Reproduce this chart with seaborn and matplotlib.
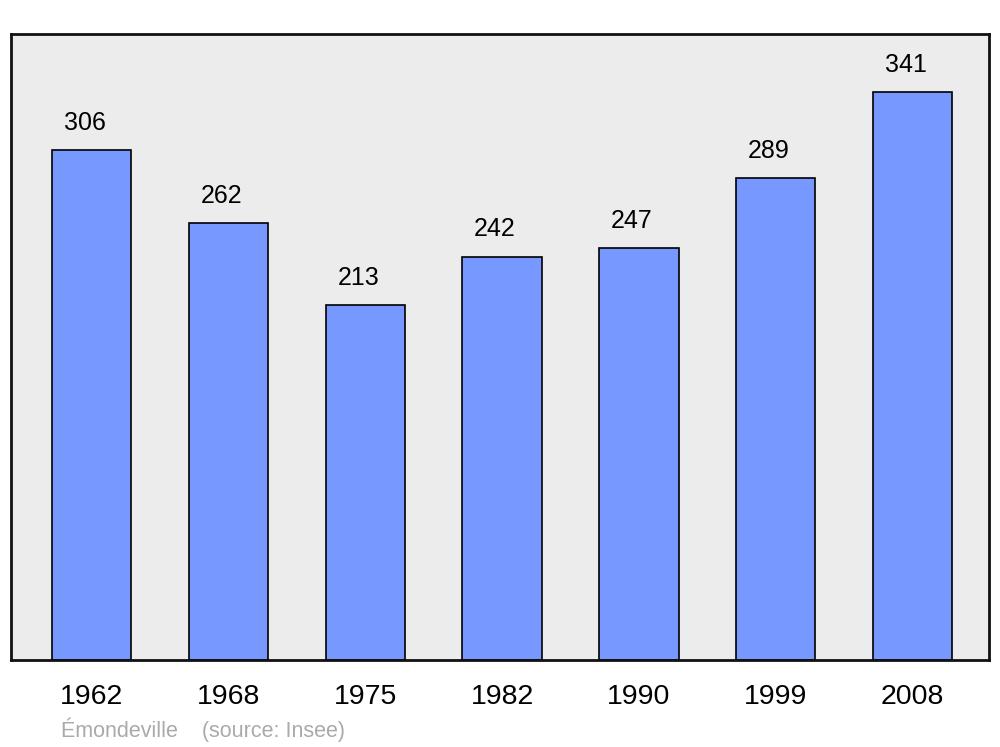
import matplotlib
matplotlib.use("Agg")
import matplotlib.pyplot as plt
import seaborn as sns
import pandas as pd

# Données de population
years = ["1962", "1968", "1975", "1982", "1990", "1999", "2008"]
population = [306, 262, 213, 242, 247, 289, 341]

df = pd.DataFrame({"year": years, "pop": population})

sns.set_style("white")
plt.rcParams['font.family'] = ['Liberation Sans', 'DejaVu Sans']

fig = plt.figure(figsize=(10, 7.47), dpi=100)
ax = fig.add_axes([0.011, 0.1165, 0.978, 0.838])
ax.set_facecolor("#ececec")

sns.barplot(data=df, x="year", y="pop", order=years, color="#7799ff",
            saturation=1, width=0.58, edgecolor="black", linewidth=1.2, ax=ax)

for i, v in enumerate(population):
    ax.annotate(str(v), (i, v), xytext=(-5, 11), textcoords="offset points",
                ha="center", va="bottom", fontsize=18, color="black")

ax.set_xlim(-0.59, 6.56)
ax.set_ylim(0, 375.7)
ax.set_yticks([])
ax.set_xlabel("")
ax.set_ylabel("")
ax.tick_params(axis="x", length=0, pad=17, labelsize=20.5, labelcolor="black")

for s in ax.spines.values():
    s.set_visible(True)
    s.set_linewidth(2)
    s.set_color("#111111")

fig.text(0.061, 0.014, "Émondeville    (source: Insee)", fontsize=15.5, color="#aaaaaa")

plt.savefig("out.png", dpi=100)
plt.close()
